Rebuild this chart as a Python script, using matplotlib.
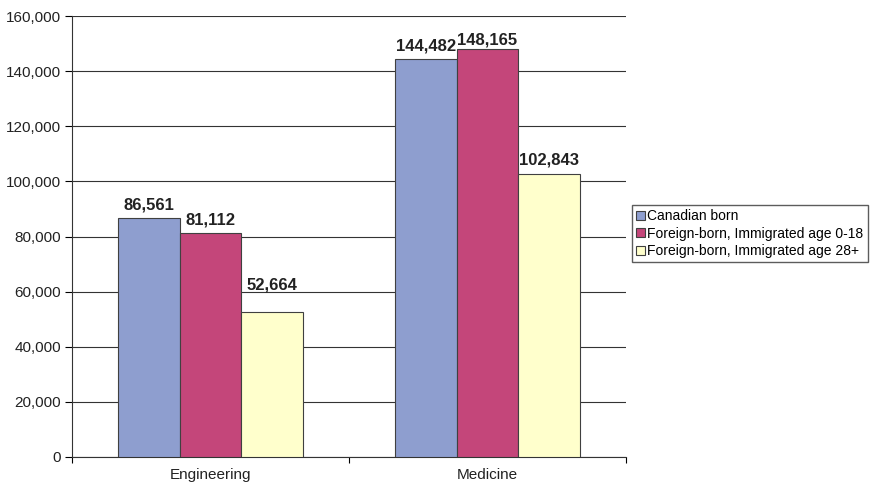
import matplotlib
matplotlib.use("Agg")
import matplotlib.pyplot as plt
import numpy as np

plt.rcParams['font.family'] = ['Liberation Sans', 'DejaVu Sans']

# data
categories = ["Engineering", "Medicine"]
series_names = ["Canadian born",
                "Foreign-born, Immigrated age 0-18",
                "Foreign-born, Immigrated age 28+"]
canadian = [86561, 144482]
foreign_young = [81112, 148165]
foreign_old = [52664, 102843]
yticks = [0, 20000, 40000, 60000, 80000, 100000, 120000, 140000, 160000]

colors = ["#8E9ECF", "#C4467A", "#FFFFCC"]

fig = plt.figure(figsize=(8.75, 4.82), dpi=100)
ax = fig.add_axes([72 / 875, 25 / 482, 554 / 875, 441 / 482])

x = np.arange(len(categories))
w = 0.222
offsets = [-w, 0, w]
all_series = [canadian, foreign_young, foreign_old]
# extra label lift in points (Excel placed the small yellow one higher)
lifts = [[4, 4], [4, 1], [14, 4]]

for i, vals in enumerate(all_series):
    bars = ax.bar(x + offsets[i], vals, width=w, color=colors[i],
                  edgecolor="#404040", linewidth=0.8, label=series_names[i], zorder=3)
    for j, b in enumerate(bars):
        ax.annotate(f"{vals[j]:,}", (b.get_x() + b.get_width() / 2, b.get_height()),
                    xytext=(0, lifts[i][j]), textcoords="offset points",
                    ha="center", va="bottom", fontsize=12, fontweight="bold",
                    color="#222222", zorder=4)

ax.set_xlim(-0.5, 1.5)
ax.set_ylim(0, 160000)
ax.set_yticks(yticks)
ax.set_yticklabels([f"{v:,}" for v in yticks], fontsize=11, color="#222222")
ax.yaxis.grid(True, color="#333333", linewidth=0.8, zorder=0)
ax.tick_params(axis="y", direction="out", length=5, width=0.8, pad=3)

# category ticks at boundaries, labels centered
ax.set_xticks([-0.5, 0.5, 1.5])
ax.set_xticklabels([])
ax.set_xticks(x, minor=True)
ax.set_xticklabels(categories, minor=True, fontsize=11, color="#222222")
ax.tick_params(axis="x", which="major", direction="out", length=4, width=0.8)
ax.tick_params(axis="x", which="minor", length=0, pad=8)

for s in ["top", "right"]:
    ax.spines[s].set_visible(False)
for s in ["left", "bottom"]:
    ax.spines[s].set_color("#333333")
    ax.spines[s].set_linewidth(0.8)

leg = fig.legend(loc="upper left", bbox_to_anchor=(632 / 875, 1 - 205 / 482),
                 fontsize=10, frameon=True, fancybox=False, handlelength=0.6,
                 handleheight=0.6, handletextpad=0.2, borderpad=0.3,
                 labelspacing=0.25, borderaxespad=0)
leg.get_frame().set_edgecolor("#333333")
leg.get_frame().set_linewidth(1.0)

fig.savefig("out.png", dpi=100)
